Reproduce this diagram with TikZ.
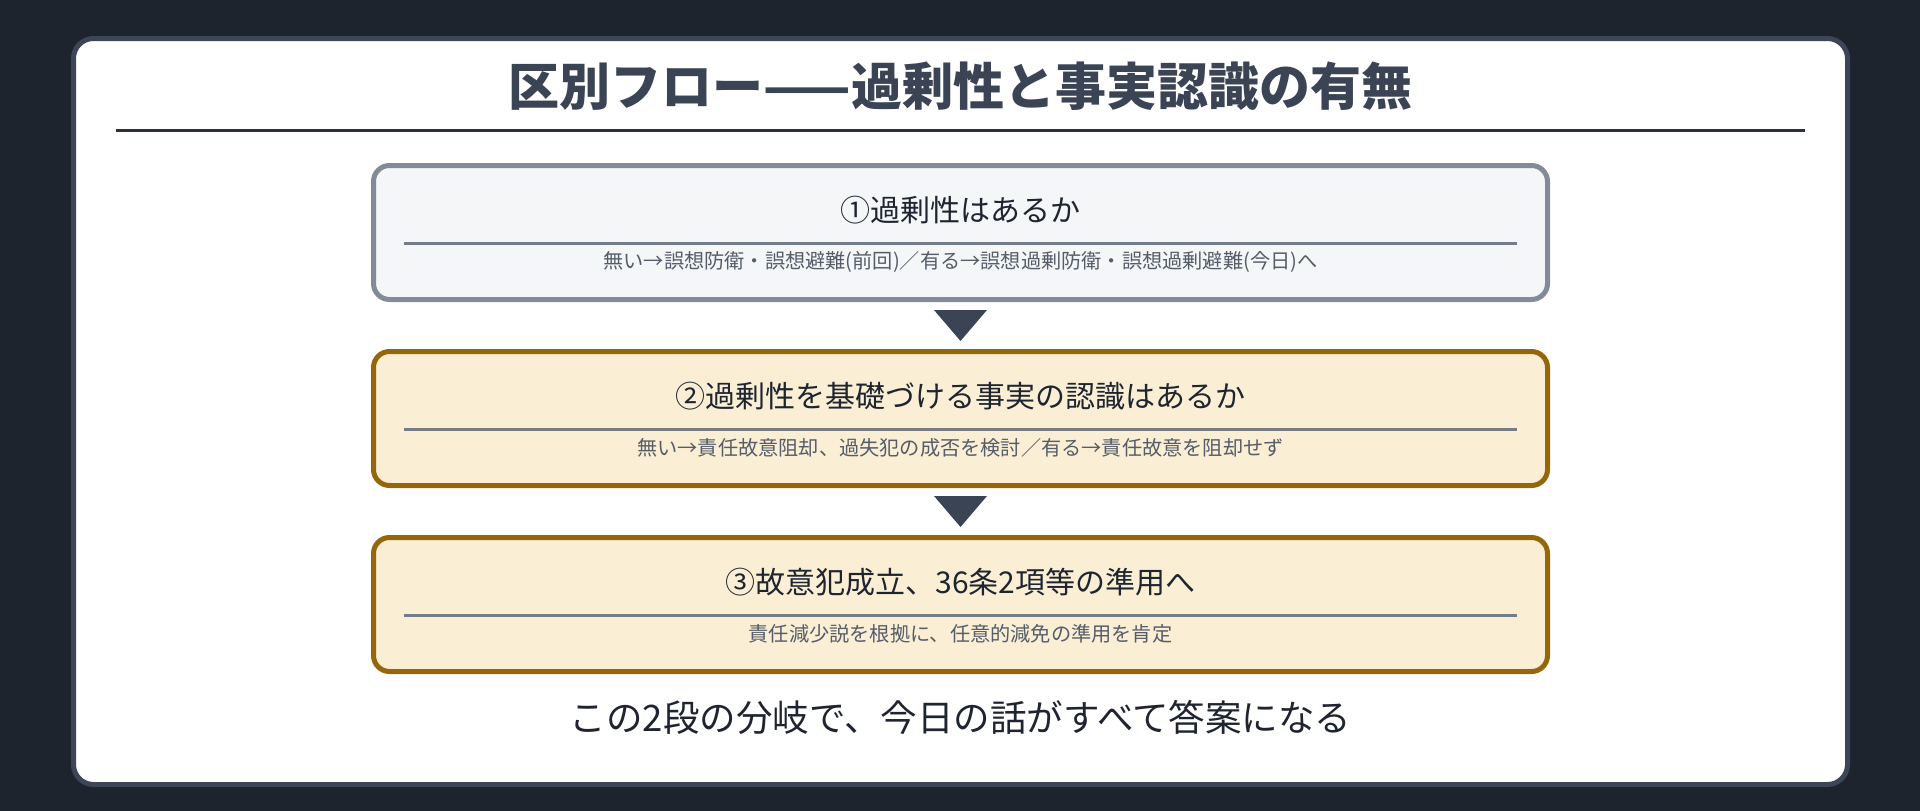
\documentclass[tikz,border=0pt]{standalone}
\usepackage{fontspec}
\usetikzlibrary{calc}
\newfontfamily\jp{Noto Sans CJK JP}
\definecolor{bgdark}{HTML}{1E242E}
\definecolor{panelline}{HTML}{3D4656}
\definecolor{titleink}{HTML}{3B4454}
\definecolor{titleline}{HTML}{2B313C}
\definecolor{grayline}{HTML}{848B98}
\definecolor{grayfill}{HTML}{F4F6F8}
\definecolor{goldline}{HTML}{96660A}
\definecolor{goldfill}{HTML}{FAEFD4}
\definecolor{ruleline}{HTML}{737C89}
\definecolor{ink}{HTML}{1F2530}
\definecolor{subink}{HTML}{555D6A}
\definecolor{arrowfill}{HTML}{3B4454}

\begin{document}
\begin{tikzpicture}[x=1pt,y=-1pt,
  panel/.style={draw=panelline,line width=5pt,fill=white,rounded corners=20pt},
  stepgray/.style={draw=grayline,fill=grayfill,line width=5pt,rounded corners=16pt,
    minimum width=1174pt,minimum height=134pt,inner sep=0pt},
  stepgold/.style={stepgray,draw=goldline,fill=goldfill},
  head/.style={font=\jp\fontsize{30}{36}\selectfont,text=ink},
  note/.style={font=\jp\fontsize{20.2}{24}\selectfont,text=subink},
  rule/.style={draw=ruleline,line width=3pt},
  tri/.style={fill=arrowfill}]

\fill[bgdark] (0,0) rectangle (1920,811);
\draw[panel] (73.5,38.5) rectangle (1847.5,784.5);

\node[font=\jp\bfseries\fontsize{51}{60}\selectfont,text=titleink] (title) at (960.5,86) {区別フロー——過剰性と事実認識の有無};
\draw[draw=titleline,line width=3pt] (116,130) -- (1805,130);

\node[stepgray] (b1) at (960.5,232.5) {};
\node[stepgold] (b2) at (960.5,418.5) {};
\node[stepgold] (b3) at (960.5,604.5) {};

\node[head] (h1) at (960.5,210) {①過剰性はあるか};
\draw[rule] (404,243) -- (1517,243);
\node[note] (n1) at (960.5,262) {無い→誤想防衛・誤想避難(前回)／有る→誤想過剰防衛・誤想過剰避難(今日)へ};

\node[head] (h2) at (960.5,396) {②過剰性を基礎づける事実の認識はあるか};
\draw[rule] (404,429) -- (1517,429);
\node[note] (n2) at (960.5,448) {無い→責任故意阻却、過失犯の成否を検討／有る→責任故意を阻却せず};

\node[head] (h3) at (960.5,582) {③故意犯成立、36条2項等の準用へ};
\draw[rule] (404,615) -- (1517,615);
\node[note] (n3) at (960.5,634) {責任減少説を根拠に、任意的減免の準用を肯定};

\coordinate (a1) at ($(b1.south)!0.5!(b2.north)$);
\coordinate (a2) at ($(b2.south)!0.5!(b3.north)$);
\fill[tri] (a1) ++(-26.5,-15.5) -- ++(53,0) -- ++(-26.5,31) -- cycle;
\fill[tri] (a2) ++(-26.5,-15.5) -- ++(53,0) -- ++(-26.5,31) -- cycle;

\node[font=\jp\fontsize{36.5}{44}\selectfont,text=ink] (foot) at (960.5,717) {この2段の分岐で、今日の話がすべて答案になる};
\end{tikzpicture}
\end{document}
